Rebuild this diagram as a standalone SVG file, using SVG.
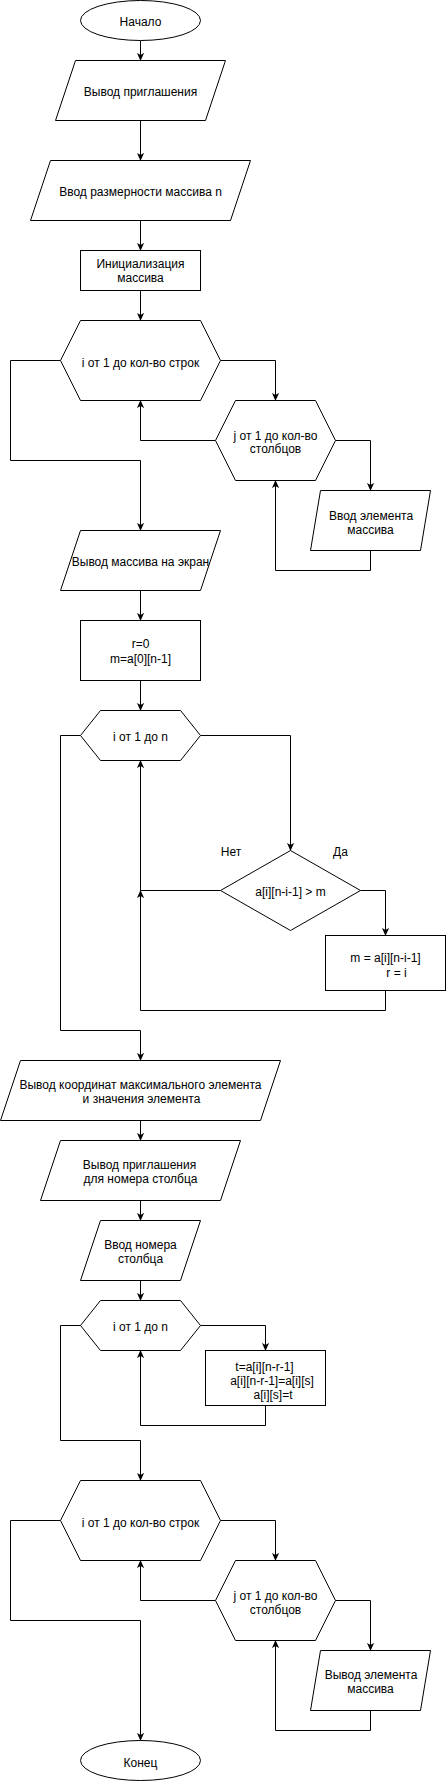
<svg xmlns="http://www.w3.org/2000/svg" width="446" height="1781" viewBox="0 0 446 1781">
<defs>
<style>
.s{fill:#fff;stroke:#000;stroke-width:1}
.c{fill:none;stroke:#000;stroke-width:1}
text{font-family:"Liberation Sans",Arial,sans-serif;font-size:12px;fill:#000;text-anchor:middle}
</style>
<marker id="ar" viewBox="0 0 10 10" refX="9.5" refY="5" markerWidth="8" markerHeight="8" markerUnits="userSpaceOnUse" orient="auto">
<path d="M0,0.5 L10,5 L0,9.5 L2.5,5 z" fill="#000"/>
</marker>
</defs>
<rect x="0" y="0" width="446" height="1781" fill="#fff"/>
<g transform="translate(0.5,0.5)">
<g id="connectors">
<path class="c" marker-end="url(#ar)" d="M140,40 V60"/>
<path class="c" marker-end="url(#ar)" d="M140,120 V160"/>
<path class="c" marker-end="url(#ar)" d="M140,220 V250"/>
<path class="c" marker-end="url(#ar)" d="M140,290 V320"/>
<path class="c" marker-end="url(#ar)" d="M220,360 H275 V400"/>
<path class="c" marker-end="url(#ar)" d="M215,440 H140 V400"/>
<path class="c" marker-end="url(#ar)" d="M335,440 H370 V490"/>
<path class="c" marker-end="url(#ar)" d="M370,550 V570 H275 V480"/>
<path class="c" marker-end="url(#ar)" d="M60,360 H10 V460 H140 V530"/>
<path class="c" marker-end="url(#ar)" d="M140,590 V620"/>
<path class="c" marker-end="url(#ar)" d="M140,680 V710"/>
<path class="c" marker-end="url(#ar)" d="M200,735 H290 V850"/>
<path class="c" marker-end="url(#ar)" d="M360,890 H385 V935"/>
<path class="c" marker-end="url(#ar)" d="M220,890 H140 V760"/>
<path class="c" marker-end="url(#ar)" d="M385,990 V1010 H140 V890"/>
<path class="c" marker-end="url(#ar)" d="M80,735 H60 V1030 H140 V1060"/>
<path class="c" marker-end="url(#ar)" d="M140,1120 V1140"/>
<path class="c" marker-end="url(#ar)" d="M140,1200 V1220"/>
<path class="c" marker-end="url(#ar)" d="M140,1280 V1300"/>
<path class="c" marker-end="url(#ar)" d="M200,1325 H265 V1350"/>
<path class="c" marker-end="url(#ar)" d="M265,1405 V1425 H140 V1350"/>
<path class="c" marker-end="url(#ar)" d="M80,1325 H60 V1440 H140 V1480"/>
<path class="c" marker-end="url(#ar)" d="M220,1520 H275 V1560"/>
<path class="c" marker-end="url(#ar)" d="M215,1600 H140 V1560"/>
<path class="c" marker-end="url(#ar)" d="M335,1600 H370 V1650"/>
<path class="c" marker-end="url(#ar)" d="M370,1710 V1730 H275 V1640"/>
<path class="c" marker-end="url(#ar)" d="M60,1520 H10 V1620 H140 V1740"/>
<text x="230.5" y="855">Нет</text>
<text x="340" y="855">Да</text>
</g>
<g id="start"><ellipse class="s" cx="140" cy="20" rx="60" ry="20"/><text x="140" y="25">Начало</text></g>
<g id="out-prompt"><polygon class="s" points="75,60 225,60 205,120 55,120"/><text x="140" y="95">Вывод приглашения</text></g>
<g id="in-size"><polygon class="s" points="50,160 250,160 230,220 30,220"/><text x="140" y="195">Ввод размерности массива n</text></g>
<g id="init"><rect class="s" x="80" y="250" width="120" height="40"/><text x="140" y="267.5">Инициализация</text><text x="140" y="281.5">массива</text></g>
<g id="loop-i1"><polygon class="s" points="60,360 80,320 200,320 220,360 200,400 80,400"/><text x="140" y="366">i от 1 до кол-во строк</text></g>
<g id="loop-j1"><polygon class="s" points="215,440 235,400 315,400 335,440 315,480 235,480"/><text x="275" y="439">j от 1 до кол-во</text><text x="275" y="452.5">столбцов</text></g>
<g id="in-elem"><polygon class="s" points="320,490 430,490 420,550 310,550"/><text x="370.5" y="519">Ввод элемента</text><text x="370" y="533">массива</text></g>
<g id="out-array"><polygon class="s" points="80,530 220,530 200,590 60,590"/><text x="140" y="565">Вывод массива на экран</text></g>
<g id="init-rm"><rect class="s" x="80" y="620" width="120" height="60"/><text x="140" y="647.5">r=0</text><text x="140" y="662.5">m=a[0][n-1]</text></g>
<g id="loop-i2"><polygon class="s" points="80,735 100,710 180,710 200,735 180,760 100,760"/><text x="140" y="740">i от 1 до n</text></g>
<g id="cond"><polygon class="s" points="290,850 360,890 290,930 220,890"/><text x="290" y="895">a[i][n-i-1] &gt; m</text></g>
<g id="set-max"><rect class="s" x="325" y="935" width="120" height="55"/><text x="385" y="961">m = a[i][n-i-1]</text><text x="396" y="976">r = i</text></g>
<g id="out-coords"><polygon class="s" points="20,1060 280,1060 260,1120 0,1120"/><text x="140" y="1088">Вывод координат максимального элемента</text><text x="141" y="1102.5">и значения элемента</text></g>
<g id="out-prompt2"><polygon class="s" points="60,1140 240,1140 220,1200 40,1200"/><text x="139" y="1168">Вывод приглашения</text><text x="140" y="1182">для номера столбца</text></g>
<g id="in-col"><polygon class="s" points="100,1220 200,1220 180,1280 80,1280"/><text x="140" y="1248">Ввод номера</text><text x="140" y="1262.5">столбца</text></g>
<g id="loop-i3"><polygon class="s" points="80,1325 100,1300 180,1300 200,1325 180,1350 100,1350"/><text x="140" y="1330">i от 1 до n</text></g>
<g id="swap"><rect class="s" x="205" y="1350" width="120" height="55"/><text x="264" y="1370">t=a[i][n-r-1]</text><text x="271.5" y="1384">a[i][n-r-1]=a[i][s]</text><text x="272.5" y="1398">a[i][s]=t</text></g>
<g id="loop-i4"><polygon class="s" points="60,1520 80,1480 200,1480 220,1520 200,1560 80,1560"/><text x="140" y="1526">i от 1 до кол-во строк</text></g>
<g id="loop-j2"><polygon class="s" points="215,1600 235,1560 315,1560 335,1600 315,1640 235,1640"/><text x="275" y="1599">j от 1 до кол-во</text><text x="275" y="1613">столбцов</text></g>
<g id="out-elem"><polygon class="s" points="320,1650 430,1650 420,1710 310,1710"/><text x="370.5" y="1678">Вывод элемента</text><text x="370" y="1692.5">массива</text></g>
<g id="end"><ellipse class="s" cx="140" cy="1760" rx="60" ry="20"/><text x="140" y="1766">Конец</text></g>
</g>
</svg>
